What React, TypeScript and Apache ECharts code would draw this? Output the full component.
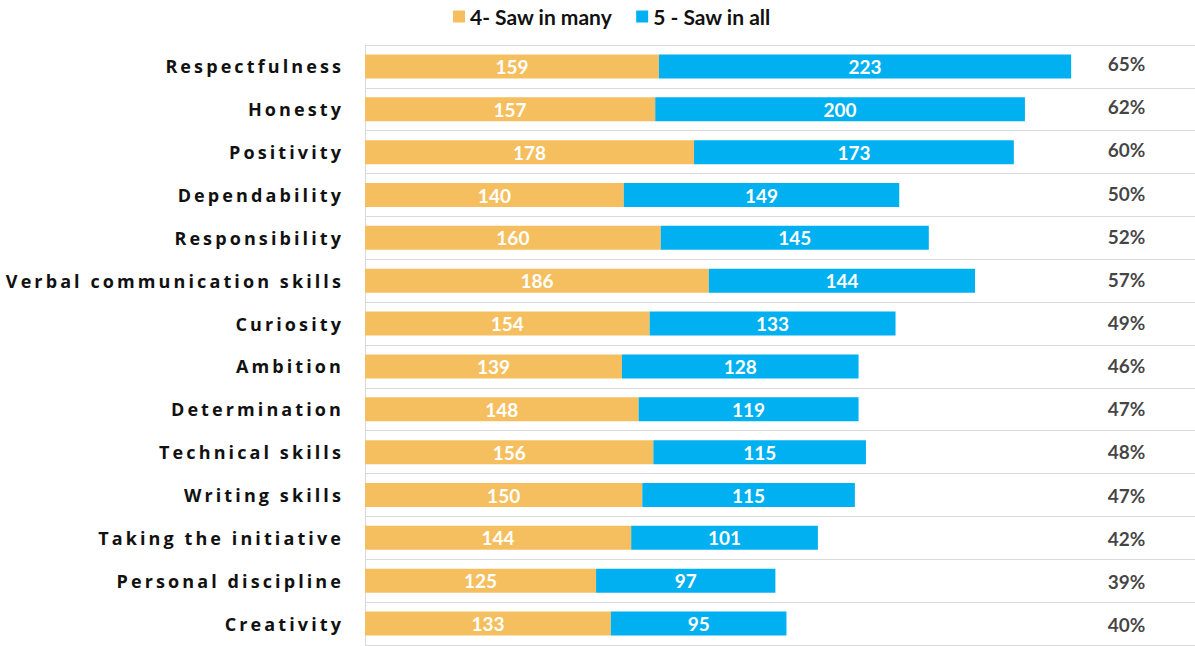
import React, { useEffect, useRef } from "react";
import * as echarts from "echarts";

const categories = [
  "Respectfulness",
  "Honesty",
  "Positivity",
  "Dependability",
  "Responsibility",
  "Verbal communication skills",
  "Curiosity",
  "Ambition",
  "Determination",
  "Technical skills",
  "Writing skills",
  "Taking the initiative",
  "Personal discipline",
  "Creativity",
];
const sawInMany = [159, 157, 178, 140, 160, 186, 154, 139, 148, 156, 150, 144, 125, 133];
const sawInAll = [223, 200, 173, 149, 145, 144, 133, 128, 119, 115, 115, 101, 97, 95];
const topTwoPct = [65, 62, 60, 50, 52, 57, 49, 46, 47, 48, 47, 42, 39, 40];

const FONT = "Lato, sans-serif";
// Category labels get their own face so the stylesheet can space them out.
const LABEL_FONT = "'Open Sans', sans-serif";

export default function App() {
  const ref = useRef<HTMLDivElement>(null);

  useEffect(() => {
    if (!ref.current) return;
    const chart = echarts.init(ref.current, null, { renderer: "svg" });
    chart.setOption({
      animation: false,
      legend: {
        top: 1,
        left: 448,
        itemWidth: 12,
        itemHeight: 12,
        itemGap: 24,
        icon: "rect",
        data: ["4- Saw in many", "5 - Saw in all"],
        textStyle: { fontFamily: FONT, fontWeight: "bold", fontSize: 21, color: "#111" },
      },
      grid: [
        { left: 365, right: 0, top: 45, bottom: 1, containLabel: false },
        { left: 365, right: 0, top: 42, bottom: -6, containLabel: false },
      ],
      xAxis: [
        { gridIndex: 0, type: "value", min: 0, max: 449, show: false },
        { gridIndex: 1, type: "value", min: 0, max: 449, show: false },
      ],
      yAxis: [
        {
          gridIndex: 0,
          type: "category",
          inverse: true,
          data: categories,
          axisTick: { show: false },
          axisLine: { show: true, lineStyle: { color: "#d9d9d9", width: 1 } },
          splitLine: { show: true, lineStyle: { color: "#d9d9d9", width: 1 } },
          axisLabel: {
            margin: 21,
            fontFamily: LABEL_FONT,
            fontWeight: "bold",
            fontSize: 18,
            color: "#111",
          },
        },
        {
          gridIndex: 1,
          type: "category",
          inverse: true,
          data: categories,
          show: false,
        },
      ],
      series: [
        {
          name: "4- Saw in many",
          type: "bar",
          stack: "total",
          barWidth: 24,
          data: sawInMany,
          itemStyle: { color: "#F5BF60" },
          label: {
            show: true,
            position: "inside",
            color: "#fff",
            fontFamily: FONT,
            fontWeight: "bold",
            fontSize: 19,
          },
        },
        {
          name: "5 - Saw in all",
          type: "bar",
          stack: "total",
          barWidth: 24,
          data: sawInAll,
          itemStyle: { color: "#00B0F0" },
          label: {
            show: true,
            position: "inside",
            color: "#fff",
            fontFamily: FONT,
            fontWeight: "bold",
            fontSize: 19,
          },
        },
        {
          name: "pct",
          type: "scatter",
          xAxisIndex: 1,
          yAxisIndex: 1,
          symbolSize: 0,
          silent: true,
          data: topTwoPct.map((p, i) => [412, i, p]),
          label: {
            show: true,
            position: "inside",
            formatter: (p: any) => p.value[2] + "%",
            color: "#111",
            fontFamily: FONT,
            fontWeight: "bold",
            fontSize: 19,
          },
        },
      ],
    });
    return () => chart.dispose();
  }, []);

  return (
    <>
      <style>{`#chart text[style*="Open Sans"] { letter-spacing: 3.1px; }`}</style>
      <div
        id="chart"
        ref={ref}
        style={{ position: "fixed", left: 0, top: 0, width: 1195, height: 646, background: "#fff" }}
      />
    </>
  );
}
